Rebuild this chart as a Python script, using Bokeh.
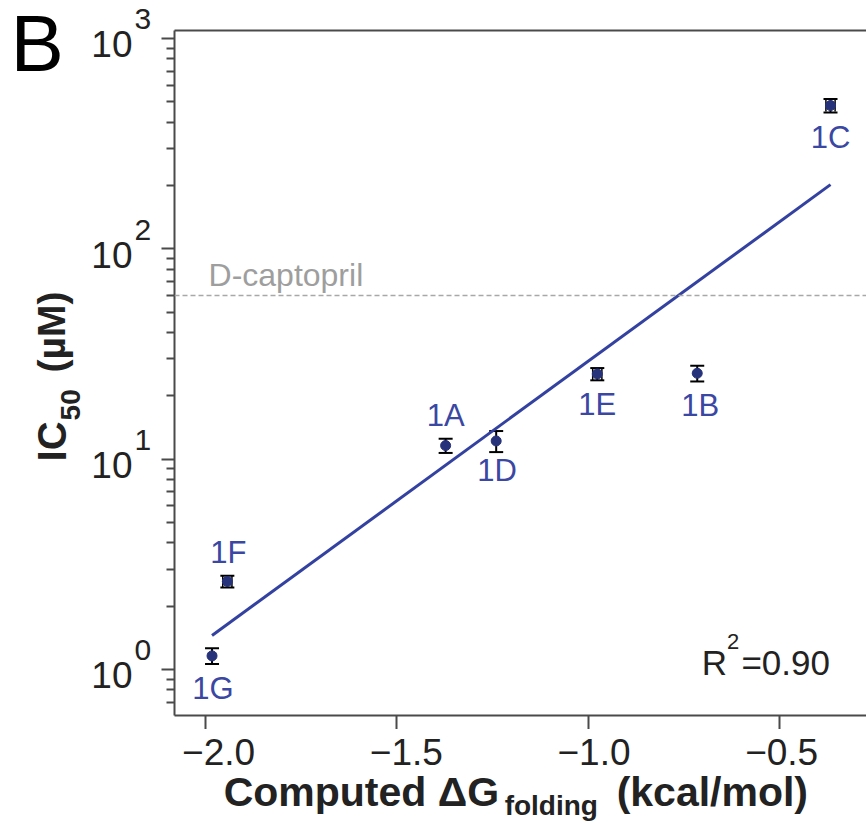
import numpy as np
from bokeh.plotting import figure
from bokeh.layouts import row, column
from bokeh.models import (ColumnDataSource, Whisker, TeeHead, Span, LabelSet,
                          FixedTicker, LinearAxis, CustomJSTickFormatter, Range1d)
from bokeh.core.properties import value
from bokeh.embed import file_html
from bokeh.resources import INLINE

# ---- data ----
names = ["1A", "1B", "1C", "1D", "1E", "1F", "1G"]
dg = [-1.373, -0.716, -0.368, -1.241, -0.977, -1.943, -1.983]
ic50 = [11.6, 25.6, 480.0, 12.2, 25.4, 2.62, 1.16]
ic50_err = [0.9, 2.2, 35.0, 1.4, 1.7, 0.17, 0.1]
dg_err = [0.0, 0.0, 0.012, 0.0, 0.012, 0.012, 0.0]

fit_x = [-1.983, -0.368]
fit_y = [1.45, 202.0]

dcaptopril = 60.0
r2_text = "=0.90"

x_ticks = [-2.0, -1.5, -1.0, -0.5]
x_tick_labels = ["\u22122.0", "\u22121.5", "\u22121.0", "\u22120.5"]
y_major = [1, 10, 100, 1000]
y_exp = ["0", "1", "2", "3"]
y_minor = [0.7, 0.8, 0.9] + [m * 10 ** k for k in range(0, 3) for m in range(2, 10)]

# ---- styles / layout ----
FONT = "Liberation Sans"
BLUE_TXT = "#3a47a3"
LINE_BLUE = "#3341a0"
PT = "#26327a"
AX = "#4a4a4a"
TXT = "#222222"

W, H = 866, 826
LEFT_W = 160          # width of the left text strip
F_LEFT, F_TOP, F_BOT = 174, 30, 715   # frame edges in canvas px
MAIN_H = F_BOT + 14   # main plot height (frame + x tick marks)

x0, x1 = -2.081, -0.274
ly0, ly1 = -0.219, 3.038
y0, y1 = 10 ** ly0, 10 ** ly1

# ---------------- main plot ----------------
p = figure(width=W - LEFT_W, height=MAIN_H, output_backend="svg", toolbar_location=None,
           y_axis_type="log", x_range=Range1d(x0, x1), y_range=Range1d(y0, y1),
           min_border_left=F_LEFT - LEFT_W, min_border_right=0, min_border_top=F_TOP,
           min_border_bottom=MAIN_H - F_BOT)
p.grid.visible = False
p.outline_line_color = None

xa = p.xaxis[0]
xa.ticker = FixedTicker(ticks=x_ticks)
xa.formatter = CustomJSTickFormatter(code="return ''")
xa.major_label_text_font_size = "0px"
xa.major_label_standoff = 0
xa.major_tick_out = 14
xa.major_tick_in = 0
xa.minor_tick_out = 0
xa.minor_tick_in = 0
xa.axis_line_color = AX
xa.axis_line_width = 2
xa.major_tick_line_color = AX
xa.major_tick_line_width = 2

ya = p.yaxis[0]
ya.ticker = FixedTicker(ticks=y_major, minor_ticks=y_minor)
ya.formatter = CustomJSTickFormatter(code="return ''")
ya.major_label_text_font_size = "0px"
ya.major_label_standoff = 0
ya.major_tick_out = 13
ya.major_tick_in = 0
ya.minor_tick_out = 8
ya.minor_tick_in = 0
ya.axis_line_color = AX
ya.axis_line_width = 2
ya.major_tick_line_color = AX
ya.major_tick_line_width = 2
ya.minor_tick_line_color = AX
ya.minor_tick_line_width = 2

top = LinearAxis(ticker=FixedTicker(ticks=[]), formatter=CustomJSTickFormatter(code="return ''"),
                 axis_line_color=AX, axis_line_width=2, major_tick_out=0, major_tick_in=0,
                 minor_tick_out=0, minor_tick_in=0, major_label_text_font_size="0px",
                 major_label_standoff=0)
p.add_layout(top, "above")

# D-captopril reference line
p.add_layout(Span(location=dcaptopril, dimension="width", line_color="#a8a8a8",
                  line_dash="5 3", line_width=1.5))
p.text(x=[-2.0], y=[dcaptopril], text=["D-captopril"], x_offset=3, y_offset=-20,
       text_font=value(FONT), text_font_size="32px", text_color="#9e9e9e",
       text_baseline="middle", text_align="left")

# fit line
p.line(fit_x, fit_y, line_color=LINE_BLUE, line_width=3)

# error bars
lo = [v - e for v, e in zip(ic50, ic50_err)]
hi = [v + e for v, e in zip(ic50, ic50_err)]
src = ColumnDataSource(dict(x=dg, y=ic50, lo=lo, hi=hi, name=names))
p.add_layout(Whisker(source=src, base="x", lower="lo", upper="hi", dimension="height",
                     line_color="black", line_width=2,
                     upper_head=TeeHead(size=14, line_color="black", line_width=2),
                     lower_head=TeeHead(size=14, line_color="black", line_width=2)))
hx = [i for i, e in enumerate(dg_err) if e > 0]
srcx = ColumnDataSource(dict(y=[ic50[i] for i in hx],
                             lo=[dg[i] - dg_err[i] for i in hx],
                             hi=[dg[i] + dg_err[i] for i in hx]))
p.add_layout(Whisker(source=srcx, base="y", lower="lo", upper="hi", dimension="width",
                     line_color="black", line_width=1.5,
                     upper_head=TeeHead(size=12, line_color="black", line_width=1.5),
                     lower_head=TeeHead(size=12, line_color="black", line_width=1.5)))

# points
p.scatter("x", "y", source=src, size=10, fill_color=PT, line_color=PT)

# point labels
lab_off = {"1A": (0, 30), "1B": (3, -32), "1C": (0, -32), "1D": (1, -30),
           "1E": (0, -31), "1F": (1, 29), "1G": (1, -33)}
lsrc = ColumnDataSource(dict(x=dg, y=ic50, t=names,
                             xo=[lab_off[n][0] for n in names],
                             yo=[lab_off[n][1] for n in names]))
p.add_layout(LabelSet(source=lsrc, x="x", y="y", text="t", x_offset="xo", y_offset="yo",
                      text_align="center", text_baseline="middle",
                      text_font=value(FONT), text_font_size="31px", text_color=BLUE_TXT))

# R^2 annotation
p.text(x=[-0.5], y=[1], text=["R"], x_offset=-53, y_offset=-7, text_font=value(FONT),
       text_font_size="35px", text_color=TXT, text_baseline="middle", text_align="right")
p.text(x=[-0.5], y=[1], text=["2"], x_offset=-53, y_offset=-28, text_font=value(FONT),
       text_font_size="22px", text_color=TXT, text_baseline="middle", text_align="left")
p.text(x=[-0.5], y=[1], text=[r2_text], x_offset=50, y_offset=-7, text_font=value(FONT),
       text_font_size="35px", text_color=TXT, text_baseline="middle", text_align="right")

# ---------------- left strip: panel letter, y tick labels, y title ----------------
ppd = (F_BOT - F_TOP) / (ly1 - ly0)
left = figure(width=LEFT_W, height=H, output_backend="svg", toolbar_location=None,
              y_axis_type="log", x_range=Range1d(0, LEFT_W),
              y_range=Range1d(10 ** (ly0 - (H - F_BOT) / ppd), 10 ** (ly1 + F_TOP / ppd)),
              min_border=0, x_axis_location=None, y_axis_location=None)
left.grid.visible = False
left.outline_line_color = None

tsrc = ColumnDataSource(dict(x=[132] * len(y_major), y=y_major,
                             b=["10"] * len(y_major), e=y_exp))
left.text(x="x", y="y", text="b", source=tsrc, y_offset=6,
          text_align="right", text_baseline="middle",
          text_font=value(FONT), text_font_size="37px", text_color=TXT)
left.text(x="x", y="y", text="e", source=tsrc, x_offset=2, y_offset=-19,
          text_align="left", text_baseline="middle",
          text_font=value(FONT), text_font_size="30px", text_color=TXT)

# y title pieces (rotated), anchored at y = 1 with pixel offsets
for txt, xx, yo, fs in [("IC", 51, -208, "40px"),
                        ("50", 70, -249, "28px"),
                        ("(\u00b5M)", 51, -297, "39px")]:
    left.text(x=[xx], y=[1], text=[txt], y_offset=yo, angle=np.pi / 2,
              text_font=value(FONT), text_font_size=fs, text_font_style="bold",
              text_color=TXT, text_baseline="middle", text_align="left")

# panel letter
left.text(x=[10], y=[y1], text=["B"], y_offset=51 - 38,
          text_font=value(FONT), text_font_size="80px", text_color="black",
          text_baseline="middle", text_align="left")

# ---------------- bottom strip: x tick labels, x title ----------------
ppu = (W - F_LEFT) / (x1 - x0)
bot = figure(width=W - LEFT_W, height=H - MAIN_H, output_backend="svg", toolbar_location=None,
             x_range=Range1d(x0 - (F_LEFT - LEFT_W) / ppu, x1), y_range=Range1d(H, MAIN_H),
             min_border=0, x_axis_location=None, y_axis_location=None)
bot.grid.visible = False
bot.outline_line_color = None

bot.text(x=x_ticks, y=[751] * len(x_ticks), text=x_tick_labels, text_align="center",
         text_baseline="middle", text_font=value(FONT), text_font_size="37px",
         text_color=TXT)

for txt, xo, yy, fs in [("Computed \u0394G", 5, 791, "41px"),
                        ("folding", 286, 805, "28px"),
                        ("(kcal/mol)", 398, 791, "41px")]:
    bot.text(x=[-2.0], y=[yy], text=[txt], x_offset=xo,
             text_font=value(FONT), text_font_size=fs, text_font_style="bold",
             text_color=TXT, text_baseline="middle", text_align="left")

layout = row(left, column(p, bot, spacing=0), spacing=0)
open("out.html", "w").write(file_html(layout, INLINE))
